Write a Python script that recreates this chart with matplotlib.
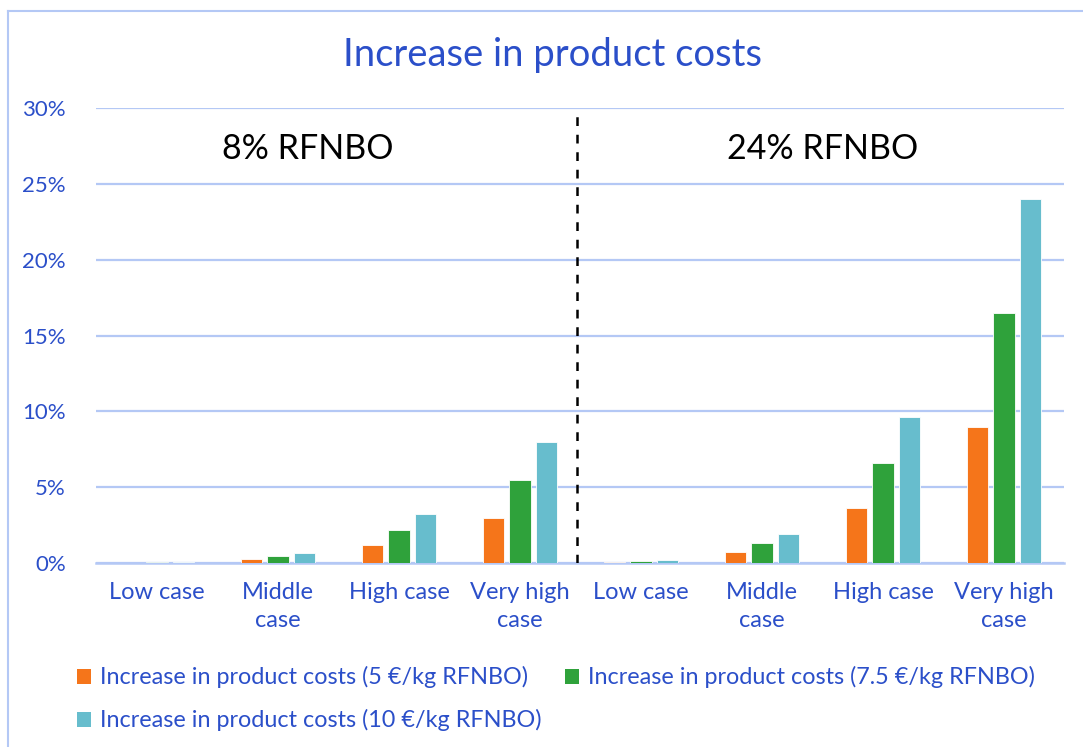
import matplotlib

matplotlib.use("Agg")

import matplotlib.pyplot as plt
import numpy as np
from matplotlib.lines import Line2D
from matplotlib.patches import Patch

categories = ["Low case", "Middle\ncase", "High case", "Very high\ncase",
              "Low case", "Middle\ncase", "High case", "Very high\ncase"]
series_names = [
    "Increase in product costs (5 €/kg RFNBO)",
    "Increase in product costs (7.5 €/kg RFNBO)",
    "Increase in product costs (10 €/kg RFNBO)",
]
cost_5 = [0.02, 0.24, 1.2, 3.0, 0.05, 0.72, 3.6, 9.0]
cost_7_5 = [0.04, 0.44, 2.2, 5.5, 0.13, 1.32, 6.6, 16.5]
cost_10 = [0.07, 0.64, 3.2, 8.0, 0.2, 1.92, 9.6, 24.0]
y_ticks = [0, 5, 10, 15, 20, 25, 30]
section_labels = ["8% RFNBO", "24% RFNBO"]

COLORS = ["#F5751A", "#2FA23B", "#67BDCD"]
GRID = "#B4C8F5"
BLUE = "#2B4FC9"

plt.rcParams["font.family"] = ["Lato", "DejaVu Sans"]

fig = plt.figure(figsize=(10.83, 7.47), dpi=100)
ax = fig.add_axes([0.0891, 0.2463, 0.8938, 0.6091])

x = np.arange(len(categories))
step = 0.221
width = 0.174
for i, (vals, color) in enumerate(zip([cost_5, cost_7_5, cost_10], COLORS)):
    ax.bar(x + (i - 1) * step, vals, width=width, color=color,
           edgecolor="white", linewidth=0.6, zorder=3)

ax.set_xlim(-0.5, len(categories) - 0.5)
ax.set_ylim(0, 30)
ax.set_yticks(y_ticks)
ax.set_yticklabels([f"{v}%" for v in y_ticks])
ax.set_xticks(x)
ax.set_xticklabels(categories, linespacing=1.4)
ax.tick_params(axis="y", length=0, pad=22, labelsize=16, labelcolor=BLUE)
ax.tick_params(axis="x", length=0, pad=14, labelsize=17, labelcolor=BLUE)

ax.grid(axis="y", color=GRID, linewidth=1.6, zorder=0)
for side in ["top", "right", "left"]:
    ax.spines[side].set_visible(False)
ax.spines["bottom"].set_color(GRID)
ax.spines["bottom"].set_linewidth(1.8)

ax.axvline(3.47, color="black", linestyle=(0, (3.5, 3.5)), linewidth=1.8, zorder=4)
ax.text(1.25, 27.3, section_labels[0], ha="center", va="center",
        fontsize=24.5, color="black")
ax.text(5.5, 27.3, section_labels[1], ha="center", va="center",
        fontsize=24.5, color="black")

fig.text(0.51, 0.927, "Increase in product costs", ha="center", va="center",
         fontsize=27.5, color=BLUE)

handles = [Patch(facecolor=c, edgecolor="none") for c in COLORS]
order = [0, 2, 1]
leg = fig.legend([handles[k] for k in order], [series_names[k] for k in order],
                 ncol=2, loc="upper left", bbox_to_anchor=(0.056, 0.13),
                 frameon=False, fontsize=16.8, handlelength=0.6, handleheight=0.6,
                 handletextpad=0.4, columnspacing=1.0, labelspacing=0.9,
                 borderpad=0.2)
for t in leg.get_texts():
    t.set_color(BLUE)

fig.add_artist(Line2D([8 / 1083, 8 / 1083], [0, 1 - 11 / 747], color=GRID,
                      linewidth=1.5, transform=fig.transFigure))
fig.add_artist(Line2D([8 / 1083, 1], [1 - 11 / 747, 1 - 11 / 747], color=GRID,
                      linewidth=1.5, transform=fig.transFigure))

fig.savefig("out.png", dpi=100)
